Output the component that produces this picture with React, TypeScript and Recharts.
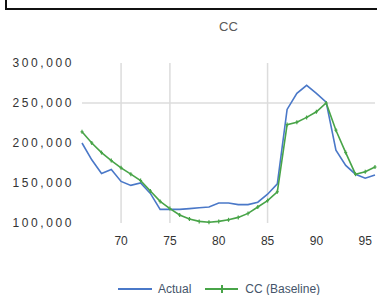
import { CartesianGrid, Legend, Line, LineChart, XAxis, YAxis } from "recharts";

const ages = [66, 67, 68, 69, 70, 71, 72, 73, 74, 75, 76, 77, 78, 79, 80, 81, 82, 83, 84, 85, 86, 87, 88, 89, 90, 91, 92, 93, 94, 95, 96];
const actual = [200000, 179000, 162000, 167000, 152000, 147000, 150000, 137000, 117000, 117000, 117000, 118000, 119000, 120000, 125000, 125000, 123000, 123000, 126000, 136000, 149000, 242000, 262000, 272000, 262000, 251000, 191000, 172000, 161000, 156000, 160000];
const baseline = [214000, 200000, 188000, 178000, 169000, 161000, 153000, 140000, 127000, 118000, 110000, 105000, 102000, 101000, 102000, 104000, 107000, 112000, 120000, 128000, 139000, 223000, 226000, 232000, 239000, 250000, 216000, 188000, 161000, 164000, 170000];
const xTicks = [70, 75, 80, 85, 90, 95];
const yTicks = [100000, 150000, 200000, 250000, 300000];
const gridX = [70, 75, 85];
const gridY = [250000];

const data = ages.map((age, i) => ({ age, actual: actual[i], baseline: baseline[i] }));

const BLUE = "#4a78c8";
const GREEN = "#48a448";
const FONT = "'Liberation Sans', Arial, sans-serif";

function PlusDot(props: any) {
  const { cx, cy } = props;
  if (cx == null || cy == null) return null;
  return (
    <g stroke={GREEN} strokeWidth={1.2}>
      <line x1={cx} y1={cy - 2} x2={cx} y2={cy + 2} />
      <line x1={cx - 1.5} y1={cy} x2={cx + 1.5} y2={cy} />
    </g>
  );
}

function ChartLegend() {
  return (
    <div style={{ display: "flex", fontFamily: FONT, fontSize: 12, color: "#44546a", height: 14, alignItems: "center" }}>
      <div style={{ width: 34, height: 2, background: BLUE, marginLeft: 118 }} />
      <span style={{ marginLeft: 6 }}>Actual</span>
      <div style={{ position: "relative", width: 33, height: 2, background: GREEN, marginLeft: 14 }}>
        <div style={{ position: "absolute", left: 16, top: -3, width: 1.5, height: 8, background: GREEN }} />
      </div>
      <span style={{ marginLeft: 7 }}>CC (Baseline)</span>
    </div>
  );
}

export default function App() {
  return (
    <div style={{ position: "absolute", left: 0, top: 0, width: 377, height: 295, overflow: "hidden", background: "#fff" }}>
      <div style={{ position: "absolute", left: 5, top: -20, width: 400, height: 26, border: "2px solid #111" }} />
      <div style={{ position: "absolute", left: 82, width: 293, top: 19, textAlign: "center", fontFamily: FONT, fontSize: 13, color: "#595959" }}>
        CC
      </div>
      <LineChart width={377} height={295} data={data} margin={{ top: 63, right: 2, left: 0, bottom: 0 }}>
        <CartesianGrid stroke="#dcdcdc" strokeWidth={1.5} horizontalValues={gridY} verticalValues={gridX} />
        <XAxis
          dataKey="age"
          type="number"
          domain={[66, 96]}
          ticks={xTicks}
          axisLine={false}
          tickLine={false}
          tickMargin={7}
          height={22}
          tick={{ fontSize: 12, fill: "#333", fontFamily: FONT }}
        />
        <YAxis
          type="number"
          domain={[100000, 300000]}
          ticks={yTicks}
          axisLine={false}
          tickLine={false}
          width={82}
          tickFormatter={(v) => Number(v).toLocaleString("en-US")}
          tick={{ fontSize: 12, fill: "#333", fontFamily: FONT, letterSpacing: 2.6 }}
        />
        <Legend verticalAlign="bottom" height={50} content={() => <ChartLegend />} wrapperStyle={{ top: 282, left: 0, width: 377 }} />
        <Line type="linear" dataKey="actual" name="Actual" stroke={BLUE} strokeWidth={1.6} dot={false} isAnimationActive={false} />
        <Line type="linear" dataKey="baseline" name="CC (Baseline)" stroke={GREEN} strokeWidth={1.6} dot={<PlusDot />} isAnimationActive={false} />
      </LineChart>
    </div>
  );
}
